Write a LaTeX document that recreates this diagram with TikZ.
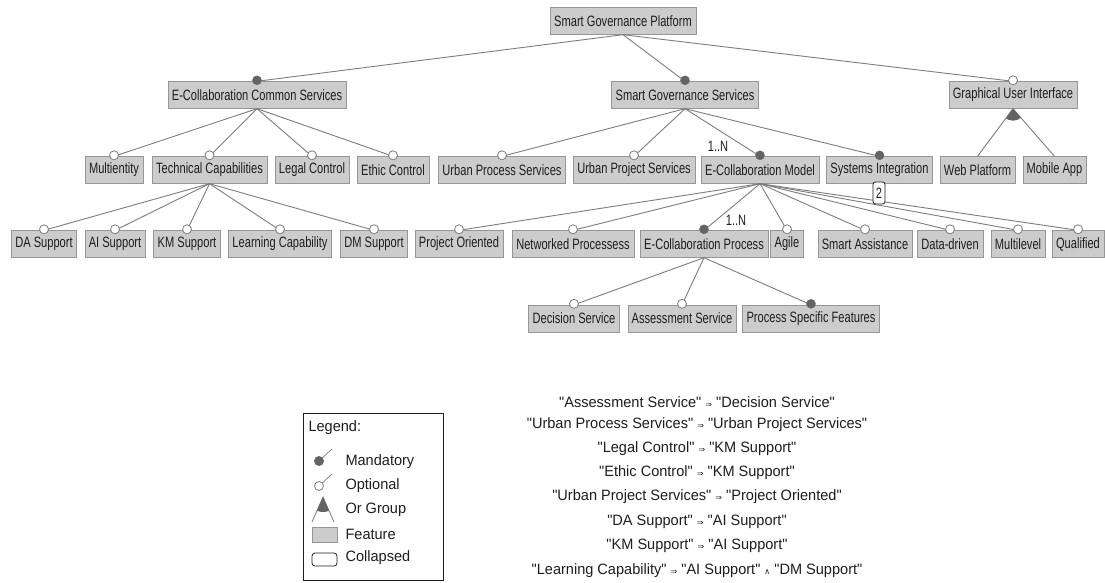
\documentclass[tikz,border=0pt]{standalone}
\usepackage{fontspec}
\setmainfont{Liberation Sans}[FakeStretch=0.97]
\newfontfamily\consfont{Liberation Sans}[FakeStretch=0.97]
\newfontfamily\boxfont{Liberation Sans}[FakeStretch=0.74]
\newfontfamily\symfnt{DejaVu Sans}
\definecolor{featfill}{RGB}{204,204,204}
\definecolor{featborder}{RGB}{150,150,150}
\definecolor{edgec}{RGB}{125,125,125}
\definecolor{mandc}{RGB}{100,100,100}
\definecolor{txt}{RGB}{30,30,30}
\newcommand{\ftext}{\boxfont\fontsize{15}{17}\selectfont}
\newcommand{\ctext}{\consfont\fontsize{15}{17}\selectfont}
\newcommand{\impl}{{\symfnt\fontsize{8}{8}\selectfont ⇒}}
\newcommand{\andsym}{{\symfnt\fontsize{8}{8}\selectfont ∧}}
\tikzset{
  feat/.style={draw=featborder, fill=featfill, minimum height=27pt, inner xsep=4pt, inner ysep=0pt, font=\ftext, text=txt},
  edge/.style={draw=edgec, line width=0.9pt},
  mand/.style={circle, fill=mandc, draw=mandc, inner sep=0pt, minimum size=9pt},
  opt/.style={circle, fill=white, draw=edgec, line width=0.8pt, inner sep=0pt, minimum size=9pt},
  card/.style={font=\ftext, text=txt},
  cons/.style={font=\ctext, text=txt},
  legt/.style={anchor=west, font=\ctext, text=txt},
  collapsed/.style={draw=txt, fill=white, rounded corners=2.5pt, minimum width=12pt, minimum height=22pt, inner sep=0pt, font=\ftext, text=txt, line width=0.8pt}
}
\begin{document}
\begin{tikzpicture}[x=1pt,y=-1pt]
\useasboundingbox[fill=white] (0,0) rectangle (1105,583);
% level 0
\node[feat] (root) at (623,21) {Smart Governance Platform};
% level 1
\node[feat] (eccs) at (257,95) {E-Collaboration Common Services};
\node[feat] (sgs) at (685,95) {Smart Governance Services};
\node[feat] (gui) at (1013,95) {Graphical User Interface};
% level 2
\node[feat] (multi) at (114,170) {Multientity};
\node[feat] (tech) at (209.5,170) {Technical Capabilities};
\node[feat] (legal) at (312,170) {Legal Control};
\node[feat] (ethic) at (393,170) {Ethic Control};
\node[feat] (upro) at (502,170) {Urban Process Services};
\node[feat] (uprj) at (634,170) {Urban Project Services};
\node[feat] (ecm) at (760,170) {E-Collaboration Model};
\node[feat] (sysi) at (879.5,170) {Systems Integration};
\node[feat] (web) at (977.5,170) {Web Platform};
\node[feat] (mob) at (1054.5,170) {Mobile App};
% level 3
\node[feat] (da) at (44,244) {DA Support};
\node[feat] (ai) at (115,244) {AI Support};
\node[feat] (km) at (187,244) {KM Support};
\node[feat] (learn) at (280,244) {Learning Capability};
\node[feat] (dm) at (374,244) {DM Support};
\node[feat] (po) at (459,244) {Project Oriented};
\node[feat] (net) at (573,244) {Networked Processess};
\node[feat] (ecp) at (704,244) {E-Collaboration Process};
\node[feat] (agile) at (787,244) {Agile};
\node[feat] (sa) at (865,244) {Smart Assistance};
\node[feat] (dd) at (950,244) {Data-driven};
\node[feat] (ml) at (1018,244) {Multilevel};
\node[feat] (qual) at (1078,244) {Qualified};
% level 4
\node[feat] (dec) at (574,318.5) {Decision Service};
\node[feat] (ass) at (682,318.5) {Assessment Service};
\node[feat] (psf) at (811,318.5) {Process Specific Features};
% edges
\foreach \p/\c in {root/eccs,root/sgs,root/gui,
  eccs/multi,eccs/tech,eccs/legal,eccs/ethic,
  tech/da,tech/ai,tech/km,tech/learn,tech/dm,
  sgs/upro,sgs/uprj,sgs/ecm,sgs/sysi,
  ecm/po,ecm/net,ecm/ecp,ecm/agile,ecm/sa,ecm/dd,ecm/ml,ecm/qual,
  ecp/dec,ecp/ass,ecp/psf,
  gui/web,gui/mob}
  \draw[edge] (\p.south) -- (\c.north);
% or group
\begin{scope}
  \clip (gui.south) circle (12pt);
  \fill[mandc] (gui.south) -- (web.north) -- (mob.north) -- cycle;
\end{scope}
% mandatory / optional markers
\foreach \c in {eccs,sgs,ecm,sysi,ecp,psf}
  \node[mand] at ([yshift=1pt]\c.north) {};
\foreach \c in {gui,multi,tech,legal,ethic,upro,uprj,da,ai,km,learn,dm,po,net,agile,sa,dd,ml,qual,dec,ass}
  \node[opt] at ([yshift=1pt]\c.north) {};
% cardinalities
\node[card] (c1) at (718,146) {1..N};
\node[card] (c2) at (736,220) {1..N};
% collapsed
\node[collapsed] (coll) at (879,193) {2};
% legend
\node[draw=txt, line width=0.8pt, minimum width=140pt, minimum height=167pt, inner sep=0pt] (leg) at (373,496.5) {};
\node[legt] (lt) at (305,428) {Legend:};
\node[legt] (lm) at (342,462) {Mandatory};
\node[legt] (lo) at (342,486) {Optional};
\node[legt] (lg) at (342,510) {Or Group};
\node[legt] (lf) at (342,534) {Feature};
\node[legt] (lc) at (342,558) {Collapsed};
\draw[edgec, line width=0.7pt] (319,461) -- (332,449);
\fill[mandc] (319,461) circle (5pt);
\draw[edgec, line width=0.7pt] (319,486) -- (332,474);
\draw[edgec, line width=0.8pt, fill=white] (319,486) circle (4.5pt);
\coordinate (ga) at (323,497);
\coordinate (gl) at (312,522);
\coordinate (gr) at (334,522);
\draw[edgec, line width=0.8pt] (gl) -- (ga) -- (gr);
\begin{scope}
  \clip (ga) circle (15pt);
  \fill[mandc] (ga) -- (gl) -- (gr) -- cycle;
\end{scope}
\draw[featborder, fill=featfill] (312,527) rectangle (337,542);
\draw[txt, line width=0.8pt, rounded corners=3pt] (312,553) rectangle (337,566);
% constraints
\node[cons] (k1) at (697,402) {"Assessment Service" \impl{} "Decision Service"};
\node[cons] (k2) at (697,425) {"Urban Process Services" \impl{} "Urban Project Services"};
\node[cons] (k3) at (697,449) {"Legal Control" \impl{} "KM Support"};
\node[cons] (k4) at (697,473) {"Ethic Control" \impl{} "KM Support"};
\node[cons] (k5) at (697,497) {"Urban Project Services" \impl{} "Project Oriented"};
\node[cons] (k6) at (697,522) {"DA Support" \impl{} "AI Support"};
\node[cons] (k7) at (697,546) {"KM Support" \impl{} "AI Support"};
\node[cons] (k8) at (697,571) {"Learning Capability" \impl{} "AI Support" \andsym{} "DM Support"};
\end{tikzpicture}
\end{document}
